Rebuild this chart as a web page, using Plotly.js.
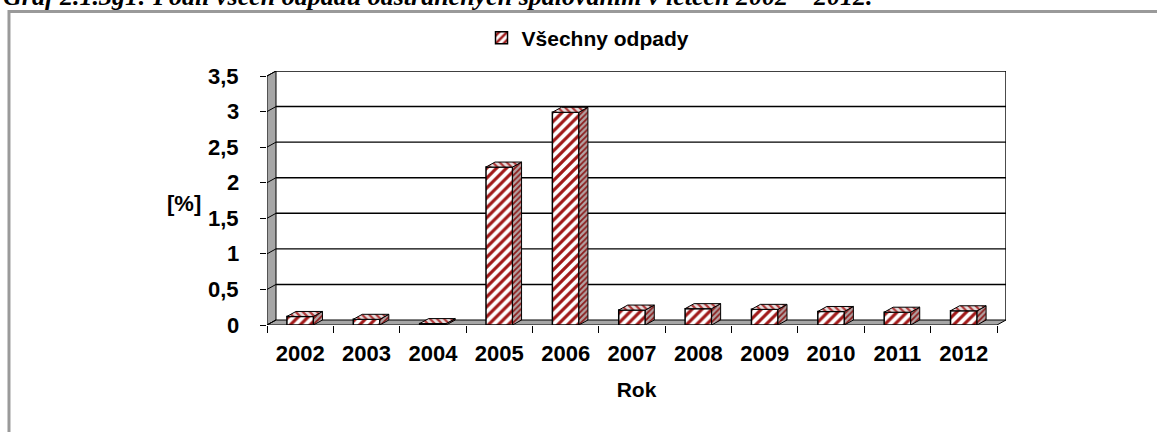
<!DOCTYPE html>
<html>
<head>
<meta charset="utf-8">
<script src="https://cdn.plot.ly/plotly-3.0.1.min.js"></script>
<style>
html,body{margin:0;padding:0;background:#fff;overflow:hidden;width:1157px;height:432px;}
#chart{position:absolute;left:0;top:-20px;width:1157px;height:452px;}
</style>
</head>
<body>
<div id="chart"></div>
<script>
// ---- data ----
const years = ['2002','2003','2004','2005','2006','2007','2008','2009','2010','2011','2012'];
const values = [0.12, 0.08, 0.02, 2.22, 2.99, 0.21, 0.23, 0.22, 0.19, 0.18, 0.20];
const seriesName = 'Všechny odpady';
const yTickVals = [0, 0.5, 1, 1.5, 2, 2.5, 3, 3.5];
const yTickText = ['0', '0,5', '1', '1,5', '2', '2,5', '3', '3,5'];
const chartTitle = 'Graf 2.1.3g1: Podíl všech odpadů odstraněných spalováním v letech 2002 – 2012.';
const yTitle = '[%]';
const xTitle = 'Rok';

// ---- geometry (pixels) ----
const W = 1157, H = 452;
const catPx = 66.36, unitPx = 71.14, depthX = 9, depthY = 5;
const yMax = 3.5;
const plotW = years.length * catPx + depthX;
const plotH = yMax * unitPx + depthY;
const mL = 267, mT = 91;
const mR = W - mL - plotW, mB = H - mT - plotH;
const ddx = depthX / catPx, ddy = depthY / unitPx;
const barW = 0.4;
const idx = years.map((_, i) => i);
const xMin = -0.5, xMax = years.length - 0.5;

const FONT = 'Liberation Sans, Arial, sans-serif';
const stripe = '#a01818';

const traces = [];
traces.push({
  type: 'bar', x: idx, y: values, width: barW, name: seriesName,
  marker: {
    color: '#ffffff',
    line: {color: '#000', width: 1.5},
    pattern: {shape: '/', fgcolor: stripe, bgcolor: '#ffffff', size: 7, solidity: 0.45, fillmode: 'replace'}
  },
  hoverinfo: 'skip', showlegend: true
});
// side & top faces
idx.forEach((xi, i) => {
  const v = values[i];
  const r = xi + barW / 2, l = xi - barW / 2;
  traces.push({
    type: 'scatter', mode: 'lines', fill: 'toself', showlegend: false, hoverinfo: 'skip',
    x: [r, r, r + ddx, r + ddx, r], y: [0, v, v + ddy, ddy, 0],
    line: {color: '#000', width: 1},
    fillcolor: '#b09090',
    fillpattern: {shape: '/', fgcolor: '#8a1a1a', bgcolor: '#b3a3a3', size: 4, solidity: 0.45}
  });
  traces.push({
    type: 'scatter', mode: 'lines', fill: 'toself', showlegend: false, hoverinfo: 'skip',
    x: [l, r, r + ddx, l + ddx, l], y: [v, v, v + ddy, v + ddy, v],
    line: {color: '#000', width: 1},
    fillcolor: '#d8c0c0',
    fillpattern: {shape: '\\', fgcolor: '#b03a3a', bgcolor: '#e6dede', size: 5, solidity: 0.45}
  });
});

const shapes = [];
// left wall
shapes.push({type: 'path', xref: 'x', yref: 'y', layer: 'below',
  path: `M ${xMin} 0 L ${xMin} ${yMax} L ${xMin + ddx} ${yMax + ddy} L ${xMin + ddx} ${ddy} Z`,
  fillcolor: '#a6a6a6', line: {color: '#000', width: 1}});
// floor
shapes.push({type: 'path', xref: 'x', yref: 'y', layer: 'below',
  path: `M ${xMin} 0 L ${xMax} 0 L ${xMax + ddx} ${ddy} L ${xMin + ddx} ${ddy} Z`,
  fillcolor: '#a6a6a6', line: {color: '#000', width: 1}});
// gridlines on back wall and diagonal on left wall
yTickVals.forEach(v => {
  if (v > 0) {
    shapes.push({type: 'line', xref: 'x', yref: 'y', layer: 'below',
      x0: xMin + ddx, x1: xMax + ddx, y0: v + ddy, y1: v + ddy,
      line: {color: '#000', width: 1.4}});
  }
  shapes.push({type: 'line', xref: 'x', yref: 'y', layer: 'below',
    x0: xMin, x1: xMin + ddx, y0: v, y1: v + ddy,
    line: {color: '#000', width: 1}});
});
// back wall right edge
shapes.push({type: 'line', xref: 'x', yref: 'y', layer: 'below',
  x0: xMax + ddx, x1: xMax + ddx, y0: ddy, y1: yMax + ddy,
  line: {color: '#000', width: 1.4}});
// outer frame
const px2paperX = p => (p - mL) / plotW;
const py2paperY = p => 1 - (p + 20 - mT) / plotH; // p: page y
shapes.push({type: 'rect', xref: 'paper', yref: 'paper', layer: 'above',
  x0: px2paperX(9), x1: px2paperX(1175), y0: py2paperY(445), y1: py2paperY(11.5),
  line: {color: '#9a9a9a', width: 3}, fillcolor: 'rgba(0,0,0,0)'});

const tickFont = {family: FONT, size: 22, weight: 'bold', color: '#000'};

const annotations = [
  {text: chartTitle, xref: 'paper', yref: 'paper', x: px2paperX(1), y: py2paperY(-3),
   xanchor: 'left', yanchor: 'middle', showarrow: false,
   font: {family: 'Liberation Serif, Times New Roman, serif', size: 26, style: 'italic', weight: 'bold', color: '#000'}},
  {text: yTitle, xref: 'paper', yref: 'paper', x: px2paperX(184), y: py2paperY(203),
   xanchor: 'center', yanchor: 'middle', showarrow: false,
   font: {family: FONT, size: 22, weight: 'bold', color: '#000'}}
];
// y tick labels (placed on the y scale)
yTickVals.forEach((v, i) => {
  annotations.push({text: yTickText[i], xref: 'paper', yref: 'y', x: px2paperX(241), y: v,
    xanchor: 'right', yanchor: 'middle', showarrow: false, font: tickFont});
});

const layout = {
  width: W, height: H,
  margin: {l: mL, r: mR, t: mT, b: mB, pad: 0},
  paper_bgcolor: '#ffffff', plot_bgcolor: 'rgba(0,0,0,0)',
  font: {family: FONT, color: '#000'},
  showlegend: true,
  legend: {orientation: 'h', x: px2paperX(588), xanchor: 'center', y: py2paperY(38), yanchor: 'middle',
    font: {family: FONT, size: 21, weight: 'bold', color: '#000'}, bgcolor: 'rgba(0,0,0,0)'},
  xaxis: {
    range: [xMin, xMax + ddx], tickmode: 'array', tickvals: idx, ticktext: years, ticks: '',
    minor: {tickmode: 'linear', tick0: -0.5, dtick: 1, ticks: 'outside', ticklen: 7, tickcolor: '#000', tickwidth: 1, showgrid: false},
    showgrid: false, zeroline: false, showline: false, fixedrange: true,
    tickfont: tickFont, ticklabelstandoff: 13,
    title: {text: xTitle, font: {family: FONT, size: 21, weight: 'bold', color: '#000'}, standoff: 17}
  },
  yaxis: {
    range: [0, yMax + ddy], tickmode: 'array', tickvals: yTickVals, ticktext: yTickText,
    ticks: 'outside', ticklen: 6, tickcolor: '#000', tickwidth: 1, showticklabels: false,
    showgrid: false, zeroline: false, showline: false, fixedrange: true
  },
  shapes: shapes,
  annotations: annotations
};

Plotly.newPlot('chart', traces, layout, {staticPlot: true, displayModeBar: false});
</script>
</body>
</html>
